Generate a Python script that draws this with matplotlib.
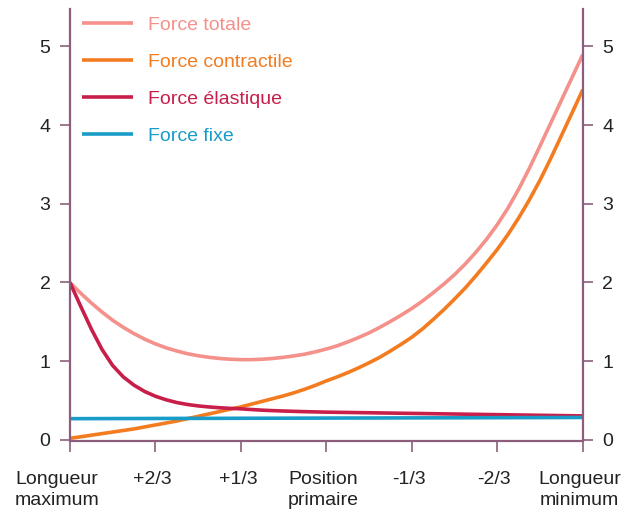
import matplotlib
matplotlib.use("Agg")
import matplotlib.pyplot as plt
import matplotlib.transforms as mtransforms

plt.rcParams['font.family'] = ['Liberation Sans', 'DejaVu Sans']

# positions along the muscle length axis (0 = longueur maximum, 6 = longueur minimum)
x = [0.0, 0.125, 0.25, 0.375, 0.5, 0.625, 0.75, 0.875, 1.0, 1.125, 1.25, 1.375,
     1.5, 1.625, 1.75, 1.875, 2.0, 2.125, 2.25, 2.375, 2.5, 2.625, 2.75, 2.875,
     3.0, 3.125, 3.25, 3.375, 3.5, 3.625, 3.75, 3.875, 4.0, 4.125, 4.25, 4.375,
     4.5, 4.625, 4.75, 4.875, 5.0, 5.125, 5.25, 5.375, 5.5, 5.625, 5.75, 5.875, 6.0]

force_totale = [2.00, 1.865, 1.74, 1.625, 1.52, 1.43, 1.35, 1.28, 1.22, 1.17, 1.13, 1.095,
                1.07, 1.05, 1.035, 1.025, 1.02, 1.02, 1.025, 1.035, 1.05, 1.068, 1.09, 1.12,
                1.155, 1.195, 1.245, 1.30, 1.36, 1.43, 1.505, 1.585, 1.67, 1.765, 1.87, 1.98,
                2.10, 2.235, 2.385, 2.55, 2.735, 2.945, 3.185, 3.45, 3.735, 4.025, 4.315, 4.605, 4.895]

force_contractile = [0.02, 0.04, 0.06, 0.08, 0.10, 0.12, 0.14, 0.165, 0.19, 0.215, 0.24, 0.27,
                     0.30, 0.33, 0.36, 0.39, 0.42, 0.455, 0.49, 0.525, 0.56, 0.60, 0.645, 0.695,
                     0.75, 0.80, 0.855, 0.915, 0.98, 1.05, 1.13, 1.215, 1.305, 1.41, 1.53, 1.655,
                     1.79, 1.93, 2.085, 2.25, 2.42, 2.61, 2.82, 3.05, 3.30, 3.575, 3.865, 4.155, 4.45]

force_elastique = [2.00, 1.70, 1.41, 1.15, 0.945, 0.80, 0.695, 0.615, 0.555, 0.51, 0.475, 0.45,
                   0.432, 0.419, 0.409, 0.401, 0.395, 0.386, 0.378, 0.372, 0.367, 0.363, 0.359, 0.356,
                   0.353, 0.351, 0.349, 0.347, 0.345, 0.343, 0.341, 0.339, 0.337, 0.335, 0.333, 0.331,
                   0.329, 0.327, 0.325, 0.323, 0.321, 0.319, 0.317, 0.315, 0.313, 0.311, 0.309, 0.307, 0.305]

force_fixe_x = [0.0, 6.0]
force_fixe = [0.27, 0.285]

tick_pos = [0, 1, 2, 3, 4, 5, 6]
tick_labels = ["Longueur\nmaximum", "+2/3", "+1/3", "Position\nprimaire",
               "-1/3", "-2/3", "Longueur\nminimum"]
y_ticks = [0, 1, 2, 3, 4, 5]

c_tot = "#F4918B"
c_con = "#F47C20"
c_ela = "#C81F4A"
c_fix = "#1A9CC8"
c_axis = "#8C5D7C"
c_text = "#222222"

fig = plt.figure(figsize=(6.3, 5.12), dpi=100)
ax = fig.add_axes([0.111, 0.1377, 0.814, 0.844])

lw = 2.6
ax.plot(x, force_totale, color=c_tot, lw=lw, label="Force totale", solid_capstyle='butt')
ax.plot(x, force_contractile, color=c_con, lw=lw, label="Force contractile", solid_capstyle='butt')
ax.plot(x, force_elastique, color=c_ela, lw=lw, label="Force élastique", solid_capstyle='butt')
ax.plot(force_fixe_x, force_fixe, color=c_fix, lw=lw, label="Force fixe", solid_capstyle='butt')

ax.set_xlim(0, 6)
ax.set_ylim(-0.02, 5.47)
ax.set_xticks(tick_pos)
ax.set_xticklabels(tick_labels, fontsize=14, color=c_text, linespacing=1.3)
ax.set_yticks(y_ticks)
ax.set_yticklabels([str(v) for v in y_ticks], fontsize=14, color=c_text)

for s in ['left', 'right', 'bottom']:
    ax.spines[s].set_color(c_axis)
    ax.spines[s].set_linewidth(1.6)
ax.spines['top'].set_visible(False)

ax.tick_params(axis='y', which='both', left=True, right=True, labelleft=True,
               labelright=True, direction='out', length=7, width=1.2,
               color=c_axis, pad=7)
ax.tick_params(axis='x', direction='out', length=8, width=1.2, color=c_axis, pad=13)

# small horizontal shifts of the x tick labels (first one sits left of its tick)
for i, lab in enumerate(ax.get_xticklabels()):
    dx = -13 if i == 0 else -3
    lab.set_transform(lab.get_transform() +
                      mtransforms.ScaledTranslation(dx / 100, 0, fig.dpi_scale_trans))

leg = ax.legend(loc='upper left', bbox_to_anchor=(0.015, 0.995), frameon=False,
                fontsize=14, handlelength=2.6, handletextpad=0.75,
                labelspacing=1.0, borderpad=0.25, borderaxespad=0)
for txt, line in zip(leg.get_texts(), leg.get_lines()):
    txt.set_color(line.get_color())

fig.savefig("out.png", dpi=100)
